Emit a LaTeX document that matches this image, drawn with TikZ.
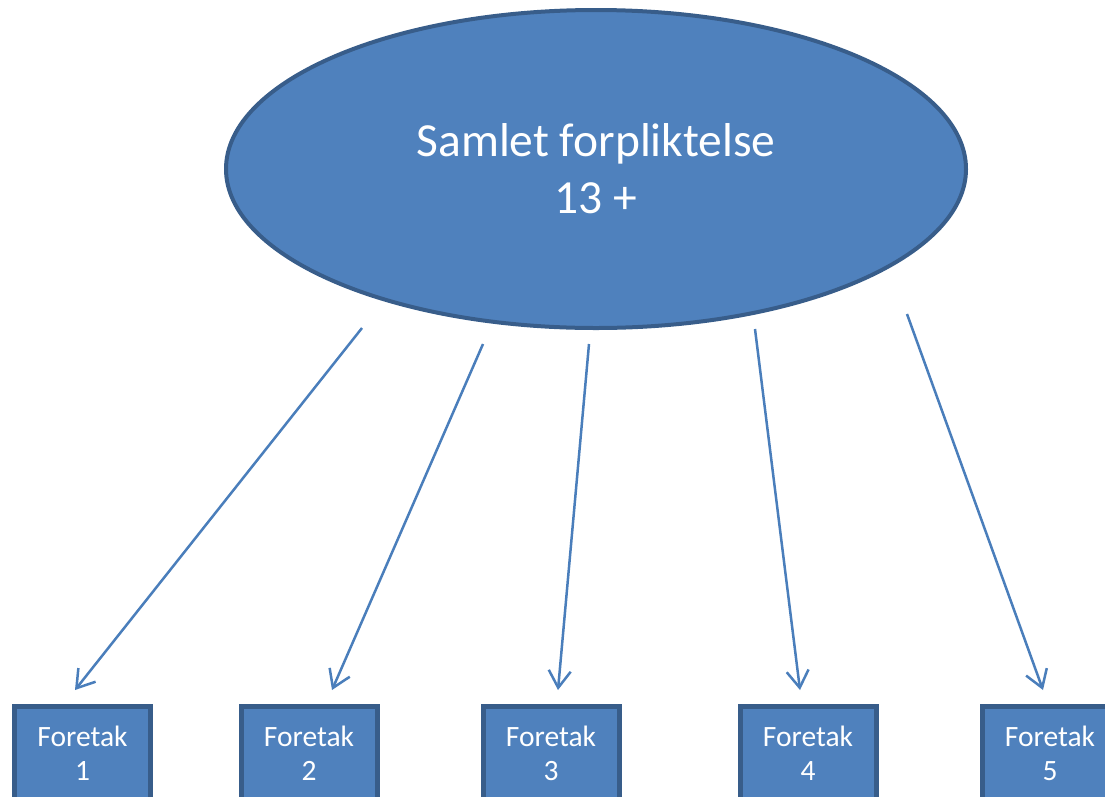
\documentclass[tikz,border=0pt]{standalone}
\usepackage{fontspec}
\setmainfont{Carlito}
\usetikzlibrary{shapes.geometric,arrows.meta}
\definecolor{fillblue}{HTML}{4F81BD}
\definecolor{edgeblue}{HTML}{385D8A}
\definecolor{arrowblue}{HTML}{4A7EBB}
\begin{document}
\begin{tikzpicture}[x=1pt,y=-1pt,
 bigoval/.style={ellipse, fill=fillblue, draw=edgeblue, line width=4pt, minimum width=740pt, minimum height=318pt, inner sep=0pt, text=white, align=center, font=\fontsize{47.5}{57}\selectfont},
 firmbox/.style={rectangle, fill=fillblue, draw=edgeblue, line width=5pt, minimum width=136pt, minimum height=93pt, inner sep=0pt, text=white, align=center, font=\fontsize{29.5}{34}\selectfont},
 link/.style={draw=arrowblue, line width=2.5pt, -{Straight Barb[length=17pt,width=22pt]}}]
\useasboundingbox (0,0) rectangle (1105,796);
\clip (0,0) rectangle (1105,796);
\node[bigoval] (top) at (596,169) {Samlet forpliktelse\\13 +};
\node[firmbox] (f1) at (82.5,753) {Foretak\\1};
\node[firmbox] (f2) at (309,753) {Foretak\\2};
\node[firmbox] (f3) at (551,753) {Foretak\\3};
\node[firmbox] (f4) at (808,753) {Foretak\\4};
\node[firmbox] (f5) at (1050,753) {Foretak\\5};
\coordinate (s1) at (362,328);
\coordinate (s2) at (483,344);
\coordinate (s3) at (589,344);
\coordinate (s4) at (755,329);
\coordinate (s5) at (907,314);
\coordinate (t1) at (75,690);
\coordinate (t2) at (332,690);
\coordinate (t3) at (558,690);
\coordinate (t4) at (800,690);
\coordinate (t5) at (1043,690);
\draw[link] (s1) -- (t1);
\draw[link] (s2) -- (t2);
\draw[link] (s3) -- (t3);
\draw[link] (s4) -- (t4);
\draw[link] (s5) -- (t5);
\end{tikzpicture}
\end{document}
